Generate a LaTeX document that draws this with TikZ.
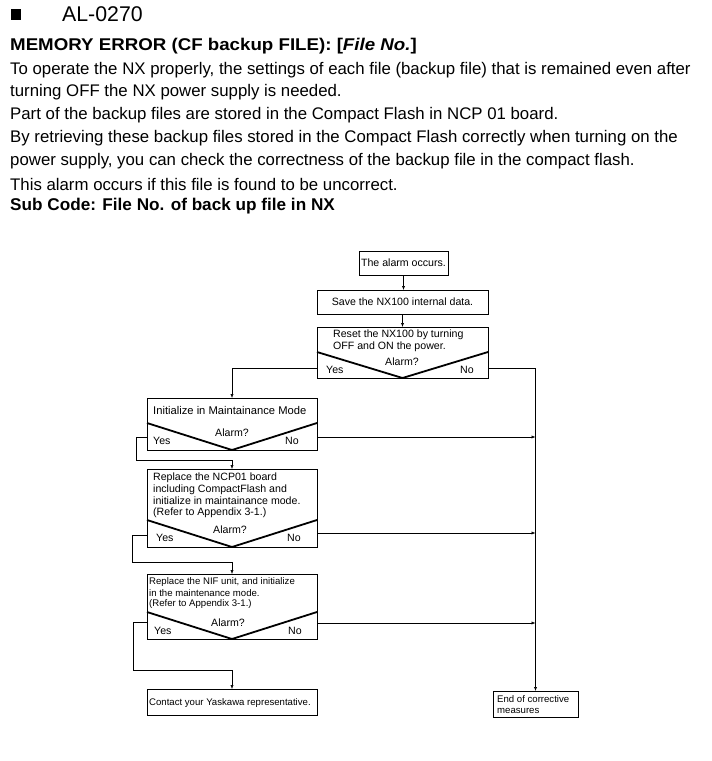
\documentclass[tikz,border=0pt]{standalone}
\usepackage{fontspec}
\setmainfont{Liberation Sans}
\usetikzlibrary{calc,arrows.meta}
\begin{document}
\begin{tikzpicture}[x=1pt,y=-1pt,
  box/.style={draw, line width=0.6pt, inner sep=0pt, outer sep=0pt, anchor=north west},
  vshape/.style={line width=1.8pt, line join=miter},
  conn/.style={line width=0.6pt},
  arr/.style={line width=0.6pt, -{Latex[length=4pt,width=3.2pt]}},
  body/.style={inner sep=0pt, anchor=west, font=\fontsize{16.8}{19}\selectfont},
  bbody/.style={inner sep=0pt, anchor=west, font=\fontsize{17}{19}\selectfont\bfseries},
  ft/.style={inner sep=0pt, font=\fontsize{10.6}{11.7}\selectfont},
  fs/.style={inner sep=0pt, font=\fontsize{9.6}{11.3}\selectfont}]
\useasboundingbox (0,0) rectangle (712,761);

% header
\fill (11,9) rectangle (21,20);
\node[body, font=\fontsize{21.3}{23}\selectfont] (hd) at (62,14) {AL-0270};
\node[bbody] (ttl) at (10,46) {\scalebox{1.1}[1]{MEMORY ERROR (CF backup FILE): [\textit{File No.}]}};
\node[body] (b1) at (10,70) {To operate the NX properly, the settings of each file (backup file) that is remained even after};
\node[body] (b2) at (10,92) {turning OFF the NX power supply is needed.};
\node[body] (b3) at (10,115) {Part of the backup files are stored in the Compact Flash in NCP 01 board.};
\node[body] (b4) at (10,138) {By retrieving these backup files stored in the Compact Flash correctly when turning on the};
\node[body] (b5) at (10,161) {power supply, you can check the correctness of the backup file in the compact flash.};
\node[body] (b6) at (10,184) {This alarm occurs if this file is found to be uncorrect.};
\node[bbody] (sub) at (10,206) {\scalebox{1.01}[1]{Sub Code: File No. of back up file in NX}};

% boxes
\node[box, minimum width=89pt, minimum height=24pt] (alarm) at (359,251) {};
\node[box, minimum width=171pt, minimum height=24pt] (save) at (317,290) {};
\node[box, minimum width=171pt, minimum height=51pt] (reset) at (317,327) {};
\node[box, minimum width=170pt, minimum height=52pt] (init) at (147,398) {};
\node[box, minimum width=170pt, minimum height=78pt] (ncp) at (147,469) {};
\node[box, minimum width=170pt, minimum height=65pt] (nif) at (147,574) {};
\node[box, minimum width=170pt, minimum height=26pt] (contact) at (147,689) {};
\node[box, minimum width=85pt, minimum height=26pt] (endb) at (493,691) {};

% V shapes
\draw[vshape] ($(reset.south west)+(0,-26)$) -- (reset.south) -- ($(reset.south east)+(0,-26)$);
\draw[vshape] ($(init.south west)+(0,-27)$) -- (init.south) -- ($(init.south east)+(0,-27)$);
\draw[vshape] ($(ncp.south west)+(0,-27)$) -- (ncp.south) -- ($(ncp.south east)+(0,-27)$);
\draw[vshape] ($(nif.south west)+(0,-27)$) -- (nif.south) -- ($(nif.south east)+(0,-27)$);

% texts
\node[ft] (talarm) at (alarm.center) {The alarm occurs.};
\node[ft] (tsave) at (save.center) {Save the NX100 internal data.};
\node[ft, anchor=west] (tr1) at (333,335) {Reset the NX100 by turning};
\node[ft, anchor=west] (tr2) at (333,346.5) {OFF and ON the power.};
\node[ft] (tra) at (402,362) {Alarm?};
\node[ft, anchor=west] (try) at (326,370) {Yes};
\node[ft, anchor=west] (trn) at (460,370) {No};

\node[ft, anchor=west, font=\fontsize{11.2}{12}\selectfont] (ti1) at (153,410) {Initialize in Maintainance Mode};
\node[ft] (tia) at (232,433) {Alarm?};
\node[ft, anchor=west] (tiy) at (153,441) {Yes};
\node[ft, anchor=west] (tin) at (285,441) {No};

\node[ft, anchor=west] (tn1) at (153,478) {Replace the NCP01 board};
\node[ft, anchor=west] (tn2) at (153,489.5) {including CompactFlash and};
\node[ft, anchor=west] (tn3) at (153,501) {initialize in maintainance mode.};
\node[ft, anchor=west] (tn4) at (153,512.5) {(Refer to Appendix 3-1.)};
\node[ft] (tna) at (230,530) {Alarm?};
\node[ft, anchor=west] (tny) at (156,538) {Yes};
\node[ft, anchor=west] (tnn) at (287,538) {No};

\node[fs, anchor=west] (tf1) at (149,582) {Replace the NIF unit, and initialize};
\node[fs, anchor=west] (tf2) at (149,593) {in the maintenance mode.};
\node[fs, anchor=west] (tf3) at (149,604.5) {(Refer to Appendix 3-1.)};
\node[ft] (tfa) at (228,623) {Alarm?};
\node[ft, anchor=west] (tfy) at (154,631) {Yes};
\node[ft, anchor=west] (tfn) at (288,631) {No};

\node[fs, anchor=west] (tc) at (149,703) {Contact your Yaskawa representative.};
\node[fs, anchor=west] (te1) at (497,699) {End of corrective};
\node[fs, anchor=west] (te2) at (497,711) {measures};

% connectors
\draw[arr] (alarm.south) -- (alarm.south |- save.north);
\draw[arr] (save.south) -- (save.south |- reset.north);
\draw[arr] ($(reset.south west)+(0,-10)$) -| (init.north);
\draw[arr] ($(reset.south east)+(0,-10)$) -| (endb.north);

\draw[arr] ($(init.south west)+(0,-13)$) -- ++(-11,0) |- ($(ncp.north)+(0,-9)$) -- (ncp.north);
\draw[arr] ($(init.south east)+(0,-13)$) coordinate (inx) -- (inx -| endb.north);

\draw[arr] ($(ncp.south west)+(0,-12)$) -- ++(-15,0) |- ($(nif.north)+(0,-12)$) -- (nif.north);
\draw[arr] ($(ncp.south east)+(0,-14)$) coordinate (nnx) -- (nnx -| endb.north);

\draw[arr] ($(nif.south west)+(0,-17)$) -- ++(-14,0) |- ($(contact.north)+(0,-19)$) -- (contact.north);
\draw[arr] ($(nif.south east)+(0,-16)$) coordinate (fnx) -- (fnx -| endb.north);
\end{tikzpicture}
\end{document}
